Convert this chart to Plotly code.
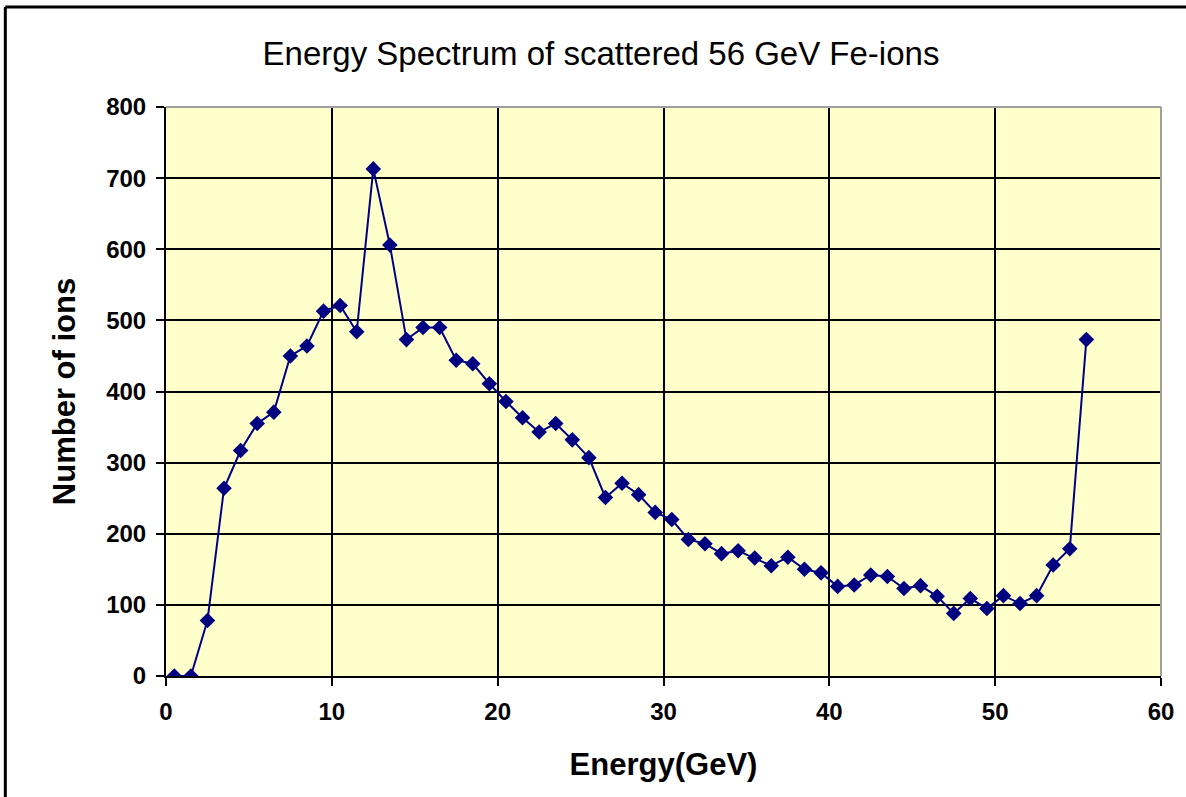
import plotly.graph_objects as go

energy = [0.5, 1.5, 2.5, 3.5, 4.5, 5.5, 6.5, 7.5, 8.5, 9.5,
          10.5, 11.5, 12.5, 13.5, 14.5, 15.5, 16.5, 17.5, 18.5, 19.5,
          20.5, 21.5, 22.5, 23.5, 24.5, 25.5, 26.5, 27.5, 28.5, 29.5,
          30.5, 31.5, 32.5, 33.5, 34.5, 35.5, 36.5, 37.5, 38.5, 39.5,
          40.5, 41.5, 42.5, 43.5, 44.5, 45.5, 46.5, 47.5, 48.5, 49.5,
          50.5, 51.5, 52.5, 53.5, 54.5, 55.5]
ions = [0, 0, 78, 264, 317, 355, 371, 450, 464, 513,
        521, 484, 713, 606, 473, 490, 490, 444, 439, 411,
        386, 363, 343, 355, 332, 307, 251, 271, 255, 230,
        220, 192, 186, 172, 176, 166, 155, 167, 150, 145,
        126, 128, 142, 140, 123, 127, 112, 88, 109, 95,
        113, 102, 113, 156, 179, 473]

title_text = "Energy Spectrum of scattered 56 GeV Fe-ions"
x_title = "Energy(GeV)"
y_title = "Number of ions"

W, H = 1186, 797
L, R, T, B = 166, 23, 107, 121
pw, ph = W - L - R, H - T - B

def px_x(p):
    return (p - L) / pw

def px_y(p):
    return (H - B - p) / ph

FONT = "Liberation Sans, Arial, sans-serif"

fig = go.Figure()
fig.add_trace(go.Scatter(
    x=energy, y=ions, mode="lines+markers",
    line=dict(color="#000080", width=2),
    marker=dict(symbol="diamond", size=12, color="#000080"),
    showlegend=False,
))

axis_common = dict(
    showgrid=True, gridcolor="black", gridwidth=2,
    showline=True, linecolor="black", linewidth=2,
    ticks="outside", ticklen=8, tickwidth=2, tickcolor="black",
    zeroline=False,
    tickfont=dict(family=FONT, size=24, color="black", weight="bold"),
)

fig.update_layout(
    width=W, height=H,
    margin=dict(l=L, r=R, t=T, b=B),
    paper_bgcolor="white",
    plot_bgcolor="#FFFFCC",
    title=dict(text=title_text, x=601 / W, xanchor="center",
               y=1 - 53 / H, yanchor="middle",
               font=dict(family=FONT, size=33, color="black")),
    xaxis=dict(range=[0, 60], dtick=10, tick0=0, ticklabelstandoff=5,
               title=dict(text=x_title, standoff=30,
                          font=dict(family=FONT, size=31, color="black", weight="bold")),
               **axis_common),
    yaxis=dict(range=[0, 800], dtick=100, tick0=0, ticklabelstandoff=5,
               title=dict(text=y_title, standoff=21,
                          font=dict(family=FONT, size=31, color="black", weight="bold")),
               **axis_common),
    shapes=[
        dict(type="line", xref="paper", yref="paper", x0=0, x1=1, y0=1, y1=1,
             line=dict(color="#A0A0A0", width=2), layer="above"),
        dict(type="line", xref="paper", yref="paper", x0=1, x1=1, y0=0, y1=1,
             line=dict(color="#A0A0A0", width=2), layer="above"),
        dict(type="line", xref="paper", yref="paper",
             x0=px_x(5), x1=px_x(1200), y0=px_y(7), y1=px_y(7),
             line=dict(color="black", width=3)),
        dict(type="line", xref="paper", yref="paper",
             x0=px_x(5), x1=px_x(5), y0=px_y(7), y1=px_y(810),
             line=dict(color="black", width=3)),
    ],
)

fig.write_html(
    "out.html",
    config={"displayModeBar": False},
    post_script="document.body.style.margin='0';document.body.style.overflow='hidden';",
)
